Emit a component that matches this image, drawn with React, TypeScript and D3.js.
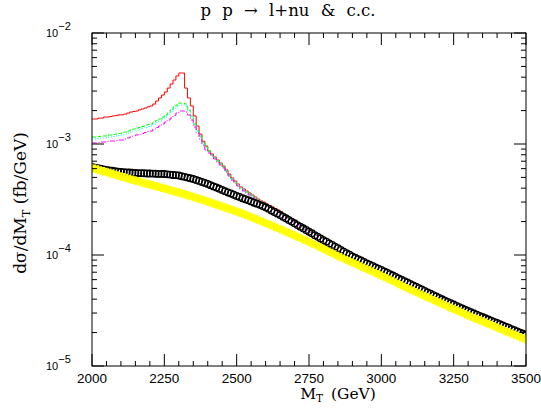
import React from "react";
import * as d3 from "d3";

// ---- data ----
const X_TICKS = [2000, 2250, 2500, 2750, 3000, 3250, 3500];
const Y_TICKS = [1e-5, 1e-4, 1e-3, 1e-2];
const Y_TICK_EXP = ["\u22125", "\u22124", "\u22123", "\u22122"];
const BIN_START = 2000;
const BIN_WIDTH = 10;

// histograms (10 GeV bins starting at 2000)
const red = [
  1.68e-3, 1.68e-3, 1.71e-3, 1.71e-3, 1.75e-3, 1.75e-3, 1.77e-3, 1.79e-3, 1.81e-3, 1.83e-3,
  1.83e-3, 1.86e-3, 1.90e-3, 1.94e-3, 1.96e-3, 1.98e-3, 2.03e-3, 2.07e-3, 2.11e-3, 2.16e-3,
  2.20e-3, 2.29e-3, 2.44e-3, 2.60e-3, 2.76e-3, 2.94e-3, 3.19e-3, 3.47e-3, 3.77e-3, 4.10e-3,
  4.36e-3, 4.36e-3, 3.19e-3, 2.60e-3, 2.20e-3, 1.79e-3, 1.45e-3, 1.23e-3, 1.06e-3, 9.59e-4,
  8.65e-4, 8.13e-4, 7.63e-4, 7.18e-4, 6.74e-4, 6.33e-4, 5.83e-4, 5.37e-4, 4.94e-4, 4.64e-4,
  4.36e-4, 4.10e-4, 3.93e-4, 3.77e-4, 3.62e-4, 3.47e-4, 3.33e-4, 3.19e-4, 3.07e-4, 3.00e-4,
  2.88e-4, 2.79e-4, 2.71e-4, 2.62e-4, 2.54e-4, 2.44e-4, 2.34e-4, 2.25e-4, 2.15e-4, 2.07e-4,
  2.00e-4, 1.94e-4, 1.86e-4, 1.79e-4, 1.73e-4, 1.68e-4, 1.61e-4, 1.56e-4, 1.51e-4, 1.45e-4,
];
const green = [
  1.156e-3, 1.156e-3, 1.168e-3, 1.181e-3, 1.181e-3, 1.206e-3, 1.206e-3, 1.218e-3, 1.230e-3, 1.243e-3,
  1.256e-3, 1.282e-3, 1.309e-3, 1.337e-3, 1.365e-3, 1.379e-3, 1.408e-3, 1.438e-3, 1.468e-3, 1.499e-3,
  1.514e-3, 1.579e-3, 1.628e-3, 1.680e-3, 1.750e-3, 1.825e-3, 1.902e-3, 2.025e-3, 2.155e-3, 2.245e-3,
  2.340e-3, 2.340e-3, 2.293e-3, 2.025e-3, 1.787e-3, 1.514e-3, 1.337e-3, 1.181e-3, 1.042e-3, 9.40e-4,
  8.65e-4, 7.96e-4, 7.48e-4, 7.03e-4, 6.60e-4, 6.20e-4, 5.71e-4, 5.26e-4, 4.84e-4, 4.55e-4,
  4.27e-4, 4.01e-4, 3.85e-4, 3.69e-4, 3.54e-4, 3.40e-4, 3.26e-4, 3.13e-4, 3.00e-4, 2.94e-4,
  2.82e-4, 2.73e-4, 2.65e-4, 2.57e-4, 2.49e-4, 2.39e-4, 2.29e-4, 2.20e-4, 2.11e-4, 2.02e-4,
  1.96e-4, 1.90e-4, 1.82e-4, 1.75e-4, 1.70e-4, 1.64e-4, 1.58e-4, 1.53e-4, 1.48e-4, 1.42e-4,
];
const cyan = [
  1.109e-3, 1.109e-3, 1.121e-3, 1.132e-3, 1.132e-3, 1.156e-3, 1.156e-3, 1.168e-3, 1.181e-3, 1.193e-3,
  1.206e-3, 1.230e-3, 1.256e-3, 1.282e-3, 1.309e-3, 1.323e-3, 1.351e-3, 1.379e-3, 1.408e-3, 1.438e-3,
  1.453e-3, 1.514e-3, 1.562e-3, 1.611e-3, 1.680e-3, 1.750e-3, 1.825e-3, 1.942e-3, 2.067e-3, 2.155e-3,
  2.245e-3, 2.245e-3, 2.200e-3, 1.983e-3, 1.750e-3, 1.483e-3, 1.309e-3, 1.156e-3, 1.021e-3, 9.20e-4,
  8.47e-4, 7.96e-4, 7.48e-4, 7.03e-4, 6.60e-4, 6.20e-4, 5.71e-4, 5.26e-4, 4.84e-4, 4.55e-4,
  4.27e-4, 4.01e-4, 3.85e-4, 3.69e-4, 3.54e-4, 3.40e-4, 3.26e-4, 3.13e-4, 3.00e-4, 2.94e-4,
  2.82e-4, 2.73e-4, 2.65e-4, 2.57e-4, 2.49e-4, 2.39e-4, 2.29e-4, 2.20e-4, 2.11e-4, 2.02e-4,
  1.96e-4, 1.90e-4, 1.82e-4, 1.75e-4, 1.70e-4, 1.64e-4, 1.58e-4, 1.53e-4, 1.48e-4, 1.42e-4,
];
const magenta = [
  1.021e-3, 1.021e-3, 1.031e-3, 1.042e-3, 1.042e-3, 1.053e-3, 1.064e-3, 1.064e-3, 1.075e-3, 1.086e-3,
  1.086e-3, 1.109e-3, 1.132e-3, 1.156e-3, 1.181e-3, 1.206e-3, 1.218e-3, 1.243e-3, 1.269e-3, 1.296e-3,
  1.309e-3, 1.365e-3, 1.408e-3, 1.453e-3, 1.514e-3, 1.579e-3, 1.645e-3, 1.714e-3, 1.806e-3, 1.902e-3,
  1.983e-3, 1.983e-3, 1.942e-3, 1.825e-3, 1.645e-3, 1.423e-3, 1.256e-3, 1.109e-3, 9.79e-4, 8.83e-4,
  8.30e-4, 7.79e-4, 7.33e-4, 6.88e-4, 6.46e-4, 6.08e-4, 5.59e-4, 5.15e-4, 4.74e-4, 4.45e-4,
  4.18e-4, 3.93e-4, 3.77e-4, 3.62e-4, 3.47e-4, 3.33e-4, 3.19e-4, 3.07e-4, 2.94e-4, 2.88e-4,
  2.76e-4, 2.68e-4, 2.60e-4, 2.52e-4, 2.44e-4, 2.34e-4, 2.25e-4, 2.15e-4, 2.07e-4, 1.98e-4,
  1.92e-4, 1.86e-4, 1.79e-4, 1.71e-4, 1.66e-4, 1.61e-4, 1.55e-4, 1.50e-4, 1.45e-4, 1.39e-4,
];

// point series (every 10 GeV, 2000..3500)
const black = [
  6.21e-4, 6.13e-4, 6.06e-4, 5.98e-4, 5.91e-4, 5.83e-4, 5.78e-4, 5.74e-4, 5.69e-4, 5.64e-4,
  5.60e-4, 5.57e-4, 5.55e-4, 5.53e-4, 5.50e-4, 5.48e-4, 5.47e-4, 5.46e-4, 5.45e-4, 5.43e-4,
  5.42e-4, 5.41e-4, 5.40e-4, 5.38e-4, 5.38e-4, 5.37e-4, 5.33e-4, 5.30e-4, 5.26e-4, 5.24e-4,
  5.20e-4, 5.13e-4, 5.06e-4, 4.98e-4, 4.91e-4, 4.84e-4, 4.74e-4, 4.65e-4, 4.55e-4, 4.46e-4,
  4.37e-4, 4.26e-4, 4.15e-4, 4.06e-4, 3.95e-4, 3.85e-4, 3.76e-4, 3.66e-4, 3.58e-4, 3.49e-4,
  3.40e-4, 3.33e-4, 3.25e-4, 3.18e-4, 3.11e-4, 3.04e-4, 2.96e-4, 2.90e-4, 2.83e-4, 2.76e-4,
  2.69e-4, 2.61e-4, 2.52e-4, 2.44e-4, 2.37e-4, 2.29e-4, 2.21e-4, 2.14e-4, 2.07e-4, 2.00e-4,
  1.93e-4, 1.86e-4, 1.80e-4, 1.74e-4, 1.68e-4, 1.62e-4, 1.57e-4, 1.51e-4, 1.46e-4, 1.41e-4,
  1.36e-4, 1.32e-4, 1.27e-4, 1.23e-4, 1.19e-4, 1.15e-4, 1.11e-4, 1.07e-4, 1.04e-4, 1.005e-4,
  9.72e-5, 9.44e-5, 9.18e-5, 8.91e-5, 8.67e-5, 8.41e-5, 8.18e-5, 7.96e-5, 7.74e-5, 7.53e-5,
  7.33e-5, 7.11e-5, 6.92e-5, 6.71e-5, 6.53e-5, 6.34e-5, 6.15e-5, 5.98e-5, 5.81e-5, 5.65e-5,
  5.48e-5, 5.32e-5, 5.18e-5, 5.02e-5, 4.89e-5, 4.74e-5, 4.60e-5, 4.48e-5, 4.35e-5, 4.23e-5,
  4.10e-5, 3.99e-5, 3.88e-5, 3.78e-5, 3.68e-5, 3.58e-5, 3.48e-5, 3.39e-5, 3.30e-5, 3.21e-5,
  3.13e-5, 3.05e-5, 2.97e-5, 2.90e-5, 2.83e-5, 2.76e-5, 2.69e-5, 2.62e-5, 2.56e-5, 2.50e-5,
  2.44e-5, 2.38e-5, 2.32e-5, 2.26e-5, 2.21e-5, 2.15e-5, 2.10e-5, 2.05e-5, 2.00e-5, 1.95e-5,
  1.90e-5,
];
const yellow = [
  6.08e-4, 5.98e-4, 5.88e-4, 5.78e-4, 5.69e-4, 5.60e-4, 5.49e-4, 5.39e-4, 5.29e-4, 5.19e-4,
  5.09e-4, 5.01e-4, 4.93e-4, 4.85e-4, 4.77e-4, 4.69e-4, 4.61e-4, 4.53e-4, 4.46e-4, 4.39e-4,
  4.32e-4, 4.24e-4, 4.17e-4, 4.11e-4, 4.04e-4, 3.97e-4, 3.91e-4, 3.84e-4, 3.78e-4, 3.72e-4,
  3.66e-4, 3.59e-4, 3.52e-4, 3.46e-4, 3.40e-4, 3.33e-4, 3.27e-4, 3.21e-4, 3.15e-4, 3.09e-4,
  3.03e-4, 2.97e-4, 2.91e-4, 2.85e-4, 2.79e-4, 2.74e-4, 2.68e-4, 2.62e-4, 2.57e-4, 2.52e-4,
  2.47e-4, 2.41e-4, 2.36e-4, 2.30e-4, 2.25e-4, 2.20e-4, 2.14e-4, 2.09e-4, 2.04e-4, 1.99e-4,
  1.94e-4, 1.89e-4, 1.85e-4, 1.80e-4, 1.76e-4, 1.71e-4, 1.67e-4, 1.62e-4, 1.58e-4, 1.54e-4,
  1.50e-4, 1.46e-4, 1.42e-4, 1.38e-4, 1.35e-4, 1.31e-4, 1.27e-4, 1.24e-4, 1.20e-4, 1.17e-4,
  1.13e-4, 1.10e-4, 1.07e-4, 1.04e-4, 1.01e-4, 9.79e-5, 9.53e-5, 9.28e-5, 9.03e-5, 8.79e-5,
  8.55e-5, 8.33e-5, 8.11e-5, 7.89e-5, 7.68e-5, 7.48e-5, 7.28e-5, 7.09e-5, 6.90e-5, 6.71e-5,
  6.53e-5, 6.34e-5, 6.16e-5, 5.99e-5, 5.82e-5, 5.65e-5, 5.49e-5, 5.33e-5, 5.18e-5, 5.03e-5,
  4.89e-5, 4.76e-5, 4.63e-5, 4.51e-5, 4.39e-5, 4.28e-5, 4.16e-5, 4.05e-5, 3.94e-5, 3.84e-5,
  3.73e-5, 3.63e-5, 3.54e-5, 3.44e-5, 3.35e-5, 3.27e-5, 3.18e-5, 3.09e-5, 3.01e-5, 2.93e-5,
  2.85e-5, 2.78e-5, 2.71e-5, 2.65e-5, 2.58e-5, 2.52e-5, 2.46e-5, 2.39e-5, 2.34e-5, 2.28e-5,
  2.22e-5, 2.17e-5, 2.11e-5, 2.06e-5, 2.01e-5, 1.96e-5, 1.91e-5, 1.87e-5, 1.82e-5, 1.78e-5,
  1.73e-5,
];

const W = 541;
const H = 415;
const L = 92;
const R = 526;
const T = 33;
const B = 366;

const SERIF = "'DejaVu Serif', serif";
const SANS = "'Liberation Sans', Arial, sans-serif";

export default function App() {
  const x = d3.scaleLinear().domain([2000, 3500]).range([L, R]);
  const y = d3.scaleLog().domain([1e-5, 1e-2]).range([B, T]);

  const histPath = (vals: number[]) => {
    const pts: [number, number][] = vals.map((v, i) => [BIN_START + i * BIN_WIDTH, v]);
    pts.push([BIN_START + vals.length * BIN_WIDTH, vals[vals.length - 1]]);
    return d3
      .line<[number, number]>()
      .x((d) => x(d[0]))
      .y((d) => y(d[1]))
      .curve(d3.curveStepAfter)(pts) as string;
  };

  const xMinor = d3.range(2000, 3501, 50);
  const yMinor: number[] = [];
  for (let e = -5; e < -2; e++) for (let m = 2; m <= 9; m++) yMinor.push(m * Math.pow(10, e));

  const crossPath = d3.symbol().type(d3.symbolCross).size(40)() as string;

  return (
    <svg width={W} height={H} style={{ display: "block", position: "absolute", left: 0, top: 0 }}>
      <rect x={0} y={0} width={W} height={H} fill="#fff" />
      <defs>
        <clipPath id="plotclip">
          <rect x={L} y={T} width={R - L} height={B - T} />
        </clipPath>
      </defs>
      <g clipPath="url(#plotclip)">
        <path d={histPath(red)} fill="none" stroke="#ff0000" strokeWidth={1} />
        <path d={histPath(green)} fill="none" stroke="#00ff00" strokeWidth={1} strokeDasharray="4,2" />
        <path d={histPath(cyan)} fill="none" stroke="#00ffff" strokeWidth={1} strokeDasharray="1,2" />
        <path d={histPath(magenta)} fill="none" stroke="#ff00ff" strokeWidth={1} strokeDasharray="5,2,1,2" />
        {black.map((v, i) => (
          <circle key={"b" + i} cx={x(BIN_START + i * BIN_WIDTH)} cy={y(v)} r={3.3} fill="none" stroke="#000" strokeWidth={1.3} />
        ))}
        {yellow.map((v, i) => (
          <path key={"y" + i} d={crossPath} transform={`translate(${x(BIN_START + i * BIN_WIDTH)},${y(v)})`} fill="#ffff00" />
        ))}
      </g>
      {/* frame */}
      <rect x={L} y={T} width={R - L} height={B - T} fill="none" stroke="#000" strokeWidth={1} />
      {/* x ticks */}
      {xMinor.map((v) => {
        const major = X_TICKS.includes(v);
        const len = major ? 12 : 5;
        return (
          <g key={"xt" + v}>
            <line x1={x(v)} x2={x(v)} y1={B} y2={B - len} stroke="#000" />
            <line x1={x(v)} x2={x(v)} y1={T} y2={T + len} stroke="#000" />
          </g>
        );
      })}
      {X_TICKS.map((v) => (
        <text key={"xl" + v} x={x(v)} y={383} textAnchor="middle" fontFamily={SANS} fontSize={13.5}>
          {v}
        </text>
      ))}
      {/* y ticks */}
      {Y_TICKS.map((v) => (
        <g key={"yt" + v}>
          <line x1={L} x2={L + 12} y1={y(v)} y2={y(v)} stroke="#000" />
          <line x1={R} x2={R - 12} y1={y(v)} y2={y(v)} stroke="#000" />
        </g>
      ))}
      {yMinor.map((v) => (
        <g key={"ym" + v}>
          <line x1={L} x2={L + 5} y1={y(v)} y2={y(v)} stroke="#000" />
          <line x1={R} x2={R - 5} y1={y(v)} y2={y(v)} stroke="#000" />
        </g>
      ))}
      {Y_TICKS.map((v, i) => (
        <text key={"yl" + v} x={46} y={y(v) + 4} fontFamily={SANS} fontSize={11}>
          10
          <tspan dy={-7} fontSize={11}>{Y_TICK_EXP[i]}</tspan>
        </text>
      ))}
      {/* titles */}
      <text x={288} y={16} textAnchor="middle" fontFamily={SERIF} fontSize={16.5} wordSpacing={6}>
        p p {"\u2192"} l+nu &amp; c.c.
      </text>
      <text x={338} y={399} textAnchor="middle" fontFamily={SERIF} fontSize={15.5} wordSpacing={3}>
        M<tspan dy={3} fontSize={10.5}>T</tspan>
        <tspan dy={-3}> (GeV)</tspan>
      </text>
      <text transform="translate(26,203) rotate(-90)" textAnchor="middle" fontFamily={SERIF} fontSize={17}>
        d{"\u03c3"}/dM<tspan dy={4} fontSize={11.5}>T</tspan>
        <tspan dy={-4}> (fb/GeV)</tspan>
      </text>
    </svg>
  );
}
